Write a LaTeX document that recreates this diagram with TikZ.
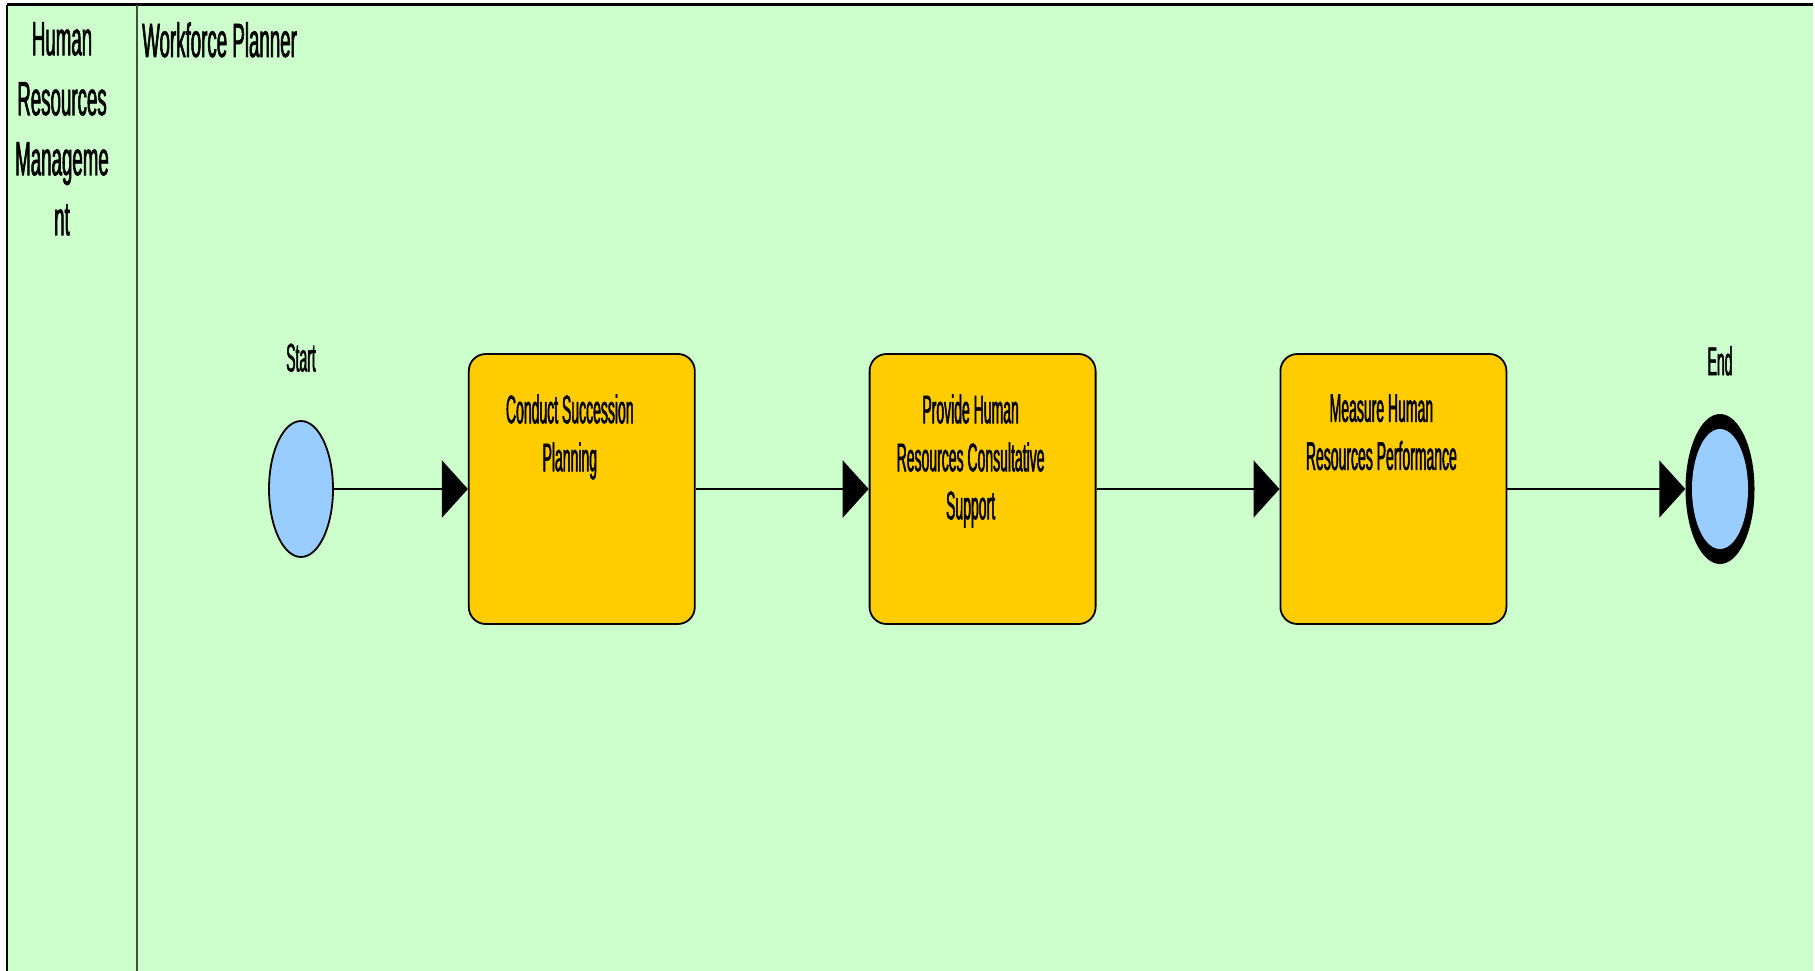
\documentclass[tikz,border=0pt]{standalone}
\usepackage{fontspec}
\usepackage{tikz}
\usetikzlibrary{arrows.meta,positioning,shapes.geometric}
\newfontfamily\lanefont[FakeStretch=0.39, FakeBold=1.2]{Liberation Sans}
\newfontfamily\taskfont[FakeStretch=0.35, FakeBold=1.2]{Liberation Sans}
\definecolor{bpmngreen}{RGB}{204,255,204}
\definecolor{bpmnyellow}{RGB}{255,204,0}
\definecolor{bpmnblue}{RGB}{153,204,255}
\definecolor{bpmnrule}{RGB}{64,80,64}
\tikzset{
  taskbox/.style={draw=black, line width=1.8pt, rounded corners=17pt, fill=bpmnyellow,
    minimum width=226pt, minimum height=270pt, inner sep=0pt},
  tasktext/.style={anchor=north, yshift=-41pt, xshift=-12pt, align=center, inner sep=0pt,
    font=\taskfont\fontsize{40}{48}\selectfont},
  startevent/.style={ellipse, draw=black, line width=1.8pt, fill=bpmnblue,
    minimum width=64pt, minimum height=136pt, inner sep=0pt},
  endevent/.style={ellipse, fill=black, minimum width=69pt, minimum height=150pt, inner sep=0pt,
    path picture={\fill[bpmnblue] (path picture bounding box.center) ellipse (28pt and 60pt);}},
  eventlabel/.style={inner sep=0pt, font=\taskfont\fontsize{40}{48}\selectfont},
  lanelabel/.style={inner sep=0pt, align=center, font=\lanefont\fontsize{48}{60}\selectfont},
  flow/.style={-{Triangle[length=26pt, width=57pt]}, line width=2.2pt, draw=black}
}
\begin{document}
\begin{tikzpicture}[x=1pt, y=-1pt]
  \useasboundingbox (0,0) rectangle (1815,971);
  \fill[bpmngreen] (7,5) rectangle (1813,971);
  \draw[line width=3pt] (7,5) -- (1813,5);
  \draw[line width=2pt] (7,5) -- (7,971);
  \draw[line width=2pt, draw=bpmnrule] (137,5) -- (137,971);
  \node[lanelabel, anchor=north] (pool) at (62,22) {Human\\Resources\\Manageme\\nt};
  \node[lanelabel, anchor=north west] (lane) at (142,22) {Workforce Planner};

  \node[startevent, label={[eventlabel, label distance=48pt]above:Start}] (start) at (301,489) {};
  \node[taskbox, right=134pt of start,
    label={[tasktext]north:Conduct Succession\\Planning}] (succession) {};
  \node[taskbox, right=173pt of succession,
    label={[tasktext]north:Provide Human\\Resources Consultative\\Support}] (consult) {};
  \node[taskbox, right=183pt of consult,
    label={[tasktext]north:Measure Human\\Resources Performance}] (measure) {};
  \node[endevent, right=178pt of measure,
    label={[eventlabel, label distance=38pt]above:End}] (end) {};

  \draw[flow] (start) -- (succession);
  \draw[flow] (succession) -- (consult);
  \draw[flow] (consult) -- (measure);
  \draw[flow] (measure) -- (end);
\end{tikzpicture}
\end{document}
